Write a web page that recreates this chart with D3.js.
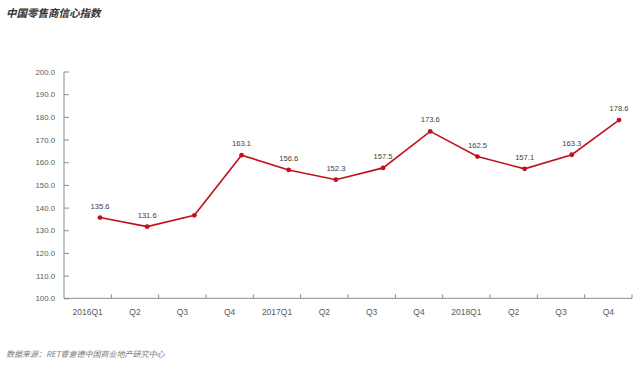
<!DOCTYPE html>
<html>
<head>
<meta charset="utf-8">
<script src="https://cdn.jsdelivr.net/npm/d3@7"></script>
<style>
  body { margin: 0; background: #fff; }
  svg { display: block; font-family: "Liberation Sans", Arial, sans-serif; }
</style>
</head>
<body>
<div class="chart"></div>
<script>
// data
var quarters = ['2016Q1', 'Q2', 'Q3', 'Q4', '2017Q1', 'Q2 ', 'Q3 ', 'Q4 ', '2018Q1', 'Q2  ', 'Q3  ', 'Q4  '];
var values = [135.6, 131.6, 136.6, 163.1, 156.6, 152.3, 157.5, 173.6, 162.5, 157.1, 163.3, 178.6];
var labels = ['135.6', '131.6', '', '163.1', '156.6', '152.3', '157.5', '173.6', '162.5', '157.1', '163.3', '178.6'];
var yTicks = [100, 110, 120, 130, 140, 150, 160, 170, 180, 190, 200];

var w = 640;
var h = 369;
var plotLeft = 64, plotRight = 632, plotTop = 71.5, plotBottom = 298.3;
var lineColor = '#c1121c';
var axisColor = '#8c8c8c';

var svg = d3.select('.chart')
    .append('svg')
        .attr('width', w)
        .attr('height', h);

// scales
var x = d3.scaleBand()
    .domain(quarters)
    .range([plotLeft, plotRight]);

// the line sits a bit to the right of the category centres, as in the original
var xPt = d3.scalePoint()
    .domain(quarters)
    .range([100, 619]);

var y = d3.scaleLinear()
    .domain([100, 200])
    .range([plotBottom, plotTop]);

// y axis
var yAxis = svg.append('g')
    .attr('transform', 'translate(' + plotLeft + ',0)')
    .call(d3.axisLeft(y).tickValues(yTicks).tickSize(-5).tickPadding(9)
        .tickFormat(function (d) { return d3.format('.1f')(d); }));

// x axis
var xAxis = svg.append('g')
    .attr('transform', 'translate(0,' + plotBottom + ')')
    .call(d3.axisBottom(x).tickSize(0).tickPadding(11)
        .tickFormat(function (d) { return d.trim(); }));

// tick marks on band edges
xAxis.selectAll('line.edge')
    .data(quarters)
    .enter()
    .append('line')
        .attr('class', 'edge')
        .attr('x1', function (d) { return x(d) + x.bandwidth(); })
        .attr('x2', function (d) { return x(d) + x.bandwidth(); })
        .attr('y1', 0)
        .attr('y2', -4);

[yAxis, xAxis].forEach(function (g) {
    g.select('.domain').attr('stroke', axisColor);
    g.selectAll('line').attr('stroke', axisColor);
    g.selectAll('text').attr('fill', '#5a5a5a');
});
yAxis.selectAll('text').attr('font-size', 7.8);
xAxis.selectAll('text').attr('font-size', 8.5);
yAxis.select('.domain').attr('d', 'M0,' + plotTop + 'V' + plotBottom);
xAxis.select('.domain').attr('d', 'M' + plotLeft + ',0H' + plotRight);

// line
var line = d3.line()
    .x(function (d, i) { return xPt(quarters[i]); })
    .y(function (d) { return y(d); });

svg.append('path')
    .datum(values)
    .attr('d', line)
    .attr('fill', 'none')
    .attr('stroke', lineColor)
    .attr('stroke-width', 1.6);

svg.selectAll('circle.pt')
    .data(values)
    .enter()
    .append('circle')
        .attr('class', 'pt')
        .attr('cx', function (d, i) { return xPt(quarters[i]); })
        .attr('cy', function (d) { return y(d); })
        .attr('r', 2.4)
        .attr('fill', lineColor);

// value labels
svg.selectAll('text.val')
    .data(values)
    .enter()
    .append('text')
        .attr('class', 'val')
        .text(function (d, i) { return labels[i]; })
        .attr('text-anchor', 'middle')
        .attr('x', function (d, i) { return xPt(quarters[i]); })
        .attr('y', function (d) { return y(d) - 9; })
        .attr('font-size', 7.6)
        .attr('fill', '#404040');

// title and source
svg.append('text')
    .text('中国零售商信心指数')
    .attr('x', 6)
    .attr('y', 17)
    .attr('font-family', '"Noto Sans CJK SC", sans-serif')
    .attr('font-style', 'italic')
    .attr('font-weight', 'bold')
    .attr('font-size', 10.5)
    .attr('fill', '#333');

svg.append('text')
    .text('数据来源：RET睿意德中国商业地产研究中心')
    .attr('x', 6)
    .attr('y', 357)
    .attr('font-family', '"Noto Sans CJK SC", sans-serif')
    .attr('font-style', 'italic')
    .attr('font-size', 8)
    .attr('fill', '#7a7a7a');
</script>
</body>
</html>
